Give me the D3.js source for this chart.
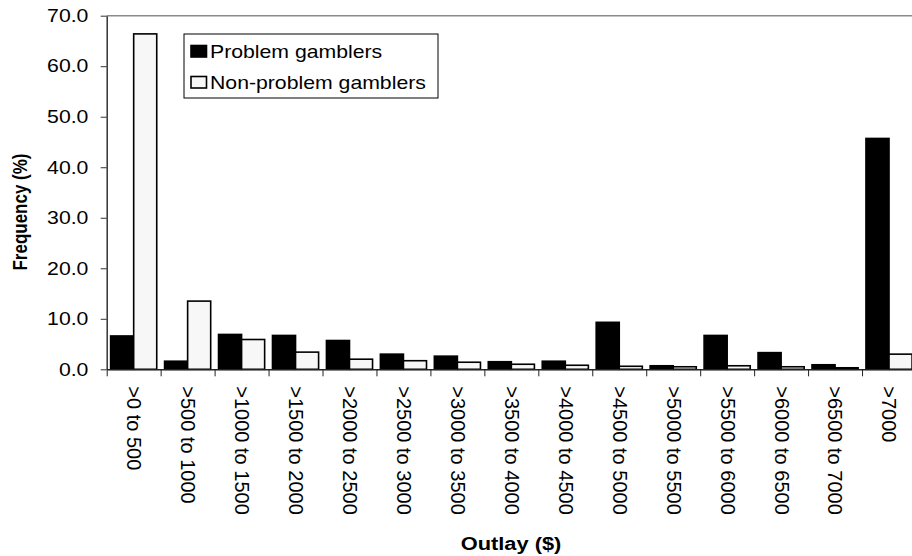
<!DOCTYPE html>
<html><head><meta charset="utf-8">
<script src="https://cdn.jsdelivr.net/npm/d3@7/dist/d3.min.js"></script>
<style>body{margin:0;background:#fff}svg{display:block;font-family:"Liberation Sans",Arial,sans-serif}</style>
</head><body><svg id="c" width="912" height="556"></svg>
<script>
const categories = [">0 to 500", ">500 to 1000", ">1000 to 1500", ">1500 to 2000", ">2000 to 2500", ">2500 to 3000", ">3000 to 3500", ">3500 to 4000", ">4000 to 4500", ">4500 to 5000", ">5000 to 5500", ">5500 to 6000", ">6000 to 6500", ">6500 to 7000", ">7000"];
const seriesNames = ["Problem gamblers", "Non-problem gamblers"];
const problem = [6.6, 1.6, 6.9, 6.7, 5.7, 3.0, 2.6, 1.5, 1.6, 9.3, 0.7, 6.7, 3.3, 0.9, 45.7];
const nonProblem = [66.4, 13.5, 5.9, 3.4, 2.0, 1.7, 1.4, 1.0, 0.8, 0.6, 0.5, 0.7, 0.5, 0.3, 3.0];
const yTicks = [0, 10, 20, 30, 40, 50, 60, 70];

const svg = d3.select("#c");
const L = 106.7, R = 916, T = 15.7, B = 369.3;
const SX = 1.18;
const fills = ["#000000", "#f7f7f7"];

const x0 = d3.scaleBand().domain(categories).range([L, R]).paddingInner(0).paddingOuter(0);
const x1 = d3.scaleBand().domain(seriesNames).range([0, x0.bandwidth()]).paddingInner(0).paddingOuter(0.17);
const y = d3.scaleLinear().domain([0, 70]).range([B, T]);
const xb = d3.scaleLinear().domain([0, categories.length]).range([L, R]);

// top border
svg.append("line").attr("x1", L).attr("x2", 912).attr("y1", T).attr("y2", T)
  .attr("stroke", "#8a8a8a").attr("stroke-width", 1.5);

// bars
const data = categories.map((c, i) => ({c, vals: [problem[i], nonProblem[i]]}));
const g = svg.append("g").selectAll("g").data(data).join("g")
  .attr("transform", d => `translate(${x0(d.c)},0)`);
g.selectAll("rect").data(d => d.vals.map((v, k) => ({k, v}))).join("rect")
  .attr("x", d => x1(seriesNames[d.k]))
  .attr("width", x1.bandwidth())
  .attr("y", d => y(d.v))
  .attr("height", d => B - y(d.v))
  .attr("fill", d => fills[d.k])
  .attr("stroke", "#000").attr("stroke-width", 1.6);

// y axis
const ya = svg.append("g").attr("transform", `translate(${L},0)`)
  .call(d3.axisLeft(y).tickValues(yTicks).tickFormat(d3.format(".1f")).tickSize(6).tickSizeOuter(0).tickPadding(9.5));
ya.select(".domain").attr("stroke", "#333").attr("stroke-width", 1.5);
ya.selectAll(".tick line").attr("stroke", "#333");
ya.selectAll("text").attr("font-size", 18).attr("fill", "#000")
  .attr("font-family", "Liberation Sans, Arial, sans-serif")
  .attr("transform", `scale(${SX},1)`);

// x axis ticks at boundaries
const xt = svg.append("g").attr("transform", `translate(0,${B})`)
  .call(d3.axisBottom(xb).tickValues(d3.range(0, categories.length + 1)).tickSize(7).tickSizeOuter(0).tickFormat(""));
xt.select(".domain").attr("stroke", "#222").attr("stroke-width", 1.5);
xt.selectAll(".tick line").attr("stroke", "#222");

// x labels
const xl = svg.append("g").attr("transform", `translate(0,${B})`)
  .call(d3.axisBottom(x0).tickSize(0).tickPadding(0));
xl.select(".domain").remove();
xl.selectAll("text").attr("font-size", 20).attr("fill", "#000")
  .attr("font-family", "Liberation Sans, Arial, sans-serif")
  .attr("text-anchor", "start")
  .attr("transform", "rotate(90)")
  .attr("x", 17).attr("y", 0).attr("dy", "0.33em");

// axis titles
svg.append("text").attr("transform", `translate(27,212) scale(${SX},1) rotate(-90)`)
  .attr("text-anchor", "middle").attr("font-weight", "bold").attr("font-size", 17)
  .text("Frequency (%)");
svg.append("text").attr("transform", `translate(511,550) scale(${SX},1)`)
  .attr("text-anchor", "middle").attr("font-weight", "bold").attr("font-size", 18.5)
  .text("Outlay ($)");

// legend
const lg = svg.append("g");
lg.append("rect").attr("x", 184).attr("y", 34).attr("width", 254).attr("height", 64)
  .attr("fill", "#fff").attr("stroke", "#000").attr("stroke-width", 1);
const rows = [{sy: 45.5, ty: 58.3}, {sy: 76.5, ty: 88.5}];
seriesNames.forEach((n, k) => {
  lg.append("rect").attr("x", 191).attr("y", rows[k].sy).attr("width", 15.5).attr("height", 11.5)
    .attr("fill", fills[k]).attr("stroke", "#000").attr("stroke-width", 1.6);
  lg.append("text").attr("transform", `translate(210,${rows[k].ty}) scale(${SX},1)`)
    .attr("font-size", 18).text(n);
});
</script></body></html>
